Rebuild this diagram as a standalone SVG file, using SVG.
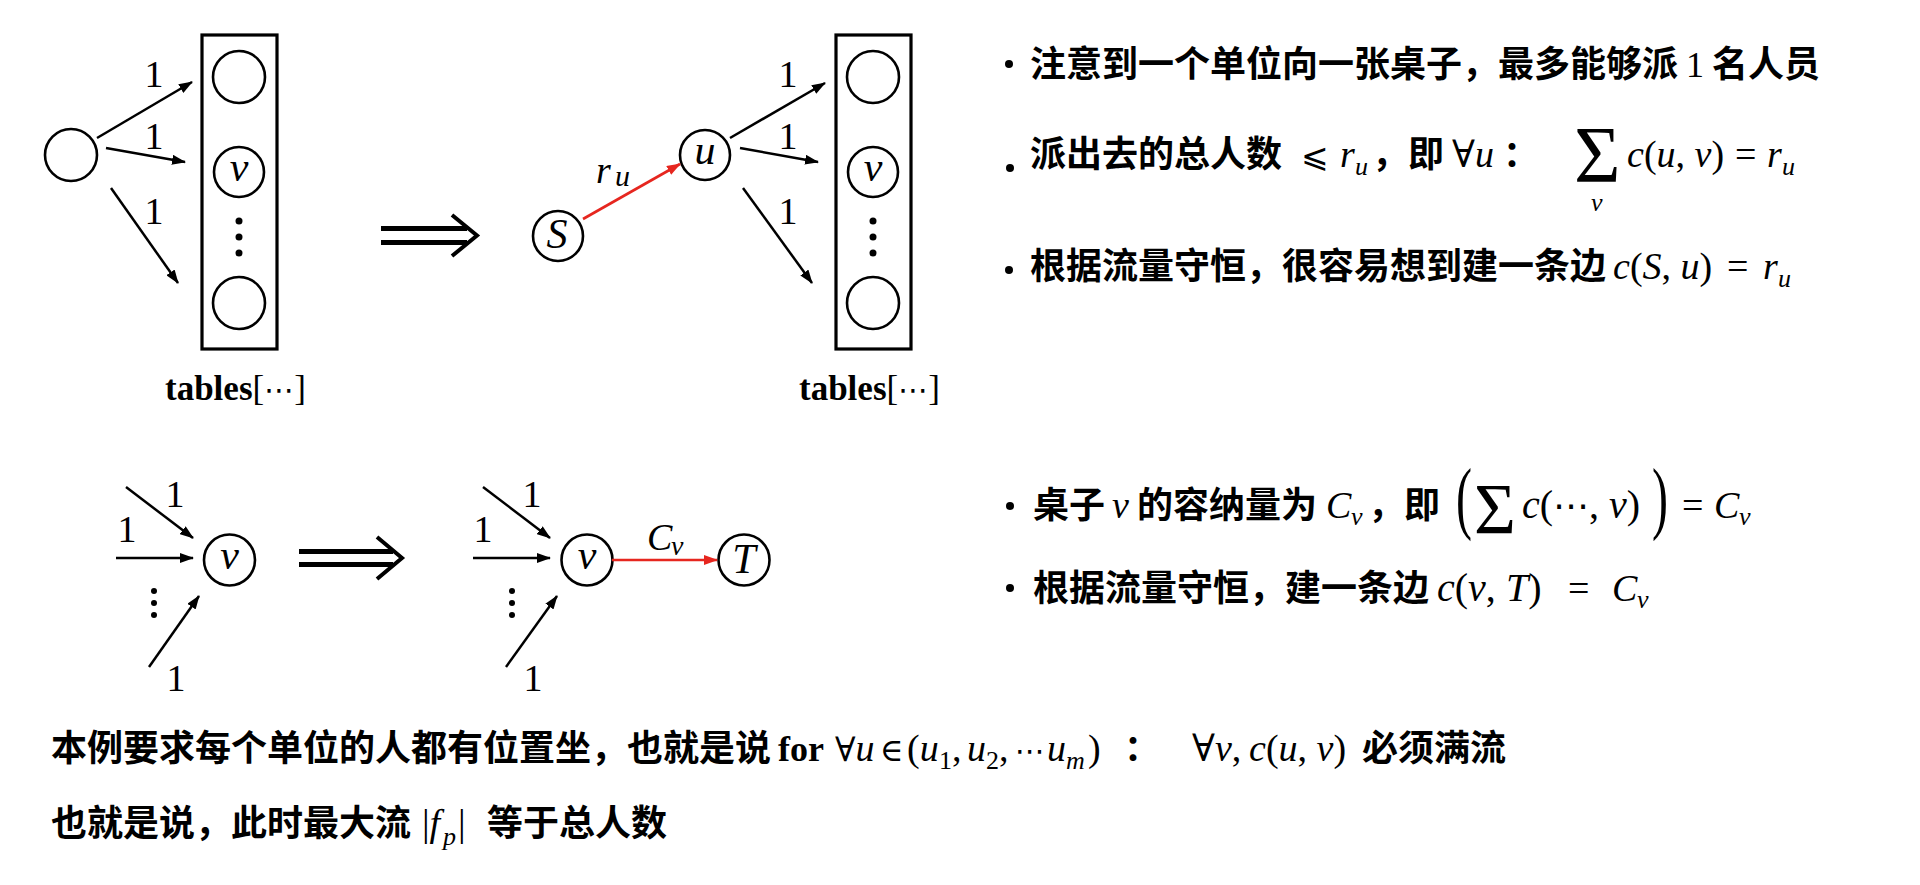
<svg xmlns="http://www.w3.org/2000/svg" width="1920" height="885" viewBox="0 0 1920 885">
<defs>
<marker id="ah" viewBox="0 0 14 10" refX="13" refY="5" markerWidth="14" markerHeight="10" markerUnits="userSpaceOnUse" orient="auto"><path d="M0,0 L14,5 L0,10 z" fill="#000"/></marker>
<marker id="ahr" viewBox="0 0 14 10" refX="13" refY="5" markerWidth="14" markerHeight="10" markerUnits="userSpaceOnUse" orient="auto"><path d="M0,0 L14,5 L0,10 z" fill="#e6261f"/></marker>
<style>
.n{fill:#fff;stroke:#000;stroke-width:2.6}
.box{fill:none;stroke:#000;stroke-width:3.2}
.e{stroke:#000;stroke-width:2.5;fill:none;marker-end:url(#ah)}
.er{stroke:#e6261f;stroke-width:2.6;fill:none;marker-end:url(#ahr)}
.impl{stroke:#000;fill:none}
.t{font-family:'Liberation Serif','DejaVu Serif','Noto Sans CJK SC',serif;fill:#000}
.i{font-style:italic}
.b{font-weight:bold}
.el{font-family:'DejaVu Sans',sans-serif;font-style:normal}
.c{font-family:'Liberation Serif','Noto Sans CJK SC',serif;font-weight:bold;font-size:36px;fill:#000}
.l{font-family:'Liberation Serif',serif;font-size:38px;text-anchor:middle;fill:#000}
.nl{font-family:'Liberation Serif',serif;font-style:italic;font-size:42px;text-anchor:middle;fill:#000}
.m{font-size:38px}
.s{font-size:26px}
.dot{fill:#000}
</style>
</defs>
<rect width="1920" height="885" fill="#fff"/>

<!-- ===== Top-left diagram ===== -->
<g id="node-left"><circle class="n" cx="71" cy="155" r="26"/></g>
<g id="tables1">
<rect class="box" x="202" y="35" width="75" height="314"/>
<g id="t1-c1"><circle class="n" cx="239" cy="77" r="26"/></g>
<g id="t1-v"><circle class="n" cx="239" cy="172" r="25"/><text class="nl" x="239" y="181">v</text></g>
<circle class="dot" cx="239" cy="221" r="3.5"/><circle class="dot" cx="239" cy="237" r="3.5"/><circle class="dot" cx="239" cy="253" r="3.5"/>
<g id="t1-c3"><circle class="n" cx="239" cy="303" r="26"/></g>
<text class="t" x="165" y="400" font-size="35"><tspan class="b">tables</tspan>[<tspan class="el" font-size="30">⋯</tspan>]</text>
</g>

<!-- ===== Top-right diagram ===== -->
<g id="node-S"><circle class="n" cx="558" cy="236" r="25"/><text class="nl" x="557" y="248" font-size="38">S</text></g>
<g id="node-u"><circle class="n" cx="705" cy="155" r="25"/><text class="nl" x="705" y="164">u</text></g>
<g id="tables2">
<rect class="box" x="836" y="35" width="75" height="314"/>
<g id="t2-c1"><circle class="n" cx="873" cy="77" r="26"/></g>
<g id="t2-v"><circle class="n" cx="873" cy="172" r="25"/><text class="nl" x="873" y="181">v</text></g>
<circle class="dot" cx="873" cy="221" r="3.5"/><circle class="dot" cx="873" cy="237" r="3.5"/><circle class="dot" cx="873" cy="253" r="3.5"/>
<g id="t2-c3"><circle class="n" cx="873" cy="303" r="26"/></g>
<text class="t" x="799" y="400" font-size="35"><tspan class="b">tables</tspan>[<tspan class="el" font-size="30">⋯</tspan>]</text>
</g>

<!-- ===== Bottom diagrams ===== -->
<g id="node-v1"><circle class="n" cx="229.5" cy="560" r="25.5"/><text class="nl" x="229.5" y="569">v</text></g>
<g id="node-v2"><circle class="n" cx="587" cy="560" r="25.5"/><text class="nl" x="587" y="569">v</text></g>
<g id="node-T"><circle class="n" cx="744" cy="560" r="25.5"/><text class="nl" x="744" y="573" font-size="38">T</text></g>
<circle class="dot" cx="154" cy="591" r="3"/><circle class="dot" cx="154" cy="603" r="3"/><circle class="dot" cx="154" cy="615" r="3"/>
<circle class="dot" cx="512" cy="591" r="3"/><circle class="dot" cx="512" cy="603" r="3"/><circle class="dot" cx="512" cy="615" r="3"/>

<!-- ===== Connectors ===== -->
<g id="connectors">
<line class="e" x1="97" y1="138" x2="192" y2="82"/>
<line class="e" x1="106" y1="148" x2="185" y2="162"/>
<line class="e" x1="111" y1="188" x2="178" y2="283"/>
<line class="er" x1="583" y1="219" x2="680" y2="164"/>
<line class="e" x1="730" y1="138" x2="825" y2="83"/>
<line class="e" x1="740" y1="148" x2="818" y2="162"/>
<line class="e" x1="743" y1="188" x2="812" y2="283"/>
<line class="e" x1="126" y1="487" x2="193" y2="538"/>
<line class="e" x1="116" y1="558" x2="193" y2="558"/>
<line class="e" x1="149" y1="667" x2="199" y2="596"/>
<line class="e" x1="483" y1="487" x2="550" y2="538"/>
<line class="e" x1="473" y1="558" x2="550" y2="558"/>
<line class="e" x1="506" y1="667" x2="557" y2="596"/>
<line class="er" x1="612" y1="560" x2="717" y2="560"/>
</g>

<!-- edge labels -->
<g id="edge-labels">
<text class="l" x="154" y="87">1</text>
<text class="l" x="154" y="149">1</text>
<text class="l" x="154" y="224">1</text>
<text class="l" x="788" y="87">1</text>
<text class="l" x="788" y="149">1</text>
<text class="l" x="788" y="224">1</text>
<text class="t i" x="596" y="183" font-size="38">r</text><text class="t i" x="615" y="186" font-size="30">u</text>
<text class="l" x="175" y="507" font-size="40">1</text>
<text class="l" x="127" y="542" font-size="40">1</text>
<text class="l" x="176" y="691" font-size="40">1</text>
<text class="l" x="532" y="507" font-size="40">1</text>
<text class="l" x="483" y="542" font-size="40">1</text>
<text class="l" x="533" y="691" font-size="40">1</text>
<text class="t i" x="647" y="550" font-size="38">C</text><text class="t i" x="671" y="555" font-size="28">v</text>
</g>

<!-- implication arrows -->
<g id="implies">
<path class="impl" stroke-width="5" d="M381,228.5 H467 M381,242.5 H467"/>
<path class="impl" stroke-width="4" d="M452,215 L477,235.5 L452,256"/>
<path class="impl" stroke-width="5" d="M299,551.5 H393 M299,564.5 H393"/>
<path class="impl" stroke-width="4" d="M377,537 L402,558 L377,579"/>
</g>

<!-- ===== Right text ===== -->
<g id="text-right">
<circle class="dot" cx="1009" cy="64" r="4"/>
<text class="c" x="1030" y="77">注意到一个单位向一张桌子，最多能够派</text>
<text class="t" x="1686" y="77" font-size="36">1</text>
<text class="c" x="1712" y="77">名人员</text>

<circle class="dot" cx="1010" cy="168" r="4"/>
<text class="c" x="1030" y="167">派出去的总人数</text>
<text class="t" x="1301" y="167" font-size="33" font-family="DejaVu Sans">⩽</text>
<text class="t i m" x="1340" y="167">r</text><text class="t i s" x="1355" y="175">u</text>
<text class="c" x="1372" y="167">，即</text>
<text class="t m" x="1452" y="167">∀<tspan class="i">u</tspan></text>
<text class="c" x="1503" y="167">：</text>
<text class="t" x="1574" y="182" font-size="80">Σ</text>
<text class="t i" x="1591" y="211" font-size="26">v</text>
<text class="t m" x="1627" y="167"><tspan class="i">c</tspan>(<tspan class="i">u</tspan>, <tspan class="i">v</tspan>)</text>
<text class="t m" x="1735" y="167">=</text>
<text class="t i m" x="1767" y="167">r</text><text class="t i s" x="1782" y="175">u</text>

<circle class="dot" cx="1009" cy="270" r="4"/>
<text class="c" x="1030" y="279">根据流量守恒，很容易想到建一条边</text>
<text class="t m" x="1613" y="279"><tspan class="i">c</tspan>(<tspan class="i">S</tspan>, <tspan class="i">u</tspan>)</text>
<text class="t m" x="1727" y="279">=</text>
<text class="t i m" x="1763" y="279">r</text><text class="t i s" x="1778" y="287">u</text>

<circle class="dot" cx="1010" cy="506" r="4"/>
<text class="c" x="1033" y="518">桌子</text>
<text class="t i m" x="1112" y="518">v</text>
<text class="c" x="1137" y="518">的容纳量为</text>
<text class="t i m" x="1326" y="518">C</text><text class="t i s" x="1351" y="525">v</text>
<text class="c" x="1368" y="518">，即</text>
<text class="t" transform="translate(1456,524) scale(0.6,1)" font-size="80">(</text>
<text class="t" x="1474" y="533" font-size="72">Σ</text>
<text class="t" x="1522" y="518" font-size="40"><tspan class="i">c</tspan>(<tspan class="el" font-size="36">⋯</tspan>, <tspan class="i">v</tspan>)</text>
<text class="t" transform="translate(1652,524) scale(0.6,1)" font-size="80">)</text>
<text class="t m" x="1682" y="518">=</text>
<text class="t i m" x="1714" y="518">C</text><text class="t i s" x="1739" y="525">v</text>

<circle class="dot" cx="1010" cy="588" r="4"/>
<text class="c" x="1033" y="601">根据流量守恒，建一条边</text>
<text class="t" x="1437" y="601" font-size="40"><tspan class="i">c</tspan>(<tspan class="i">v</tspan>,</text>
<text class="t" x="1506" y="601" font-size="40"><tspan class="i">T</tspan>)</text>
<text class="t m" x="1568" y="601">=</text>
<text class="t i m" x="1612" y="601">C</text><text class="t i s" x="1637" y="608">v</text>
</g>

<!-- ===== Bottom text ===== -->
<g id="text-bottom">
<text class="c" x="51" y="761">本例要求每个单位的人都有位置坐，也就是说</text>
<text class="t b" x="778" y="761" font-size="36">for</text>
<text class="t" x="835" y="761" font-size="34">∀<tspan class="i" font-size="38">u</tspan></text>
<text class="t" x="880" y="761" font-size="32">∈</text>
<text class="t m" x="907" y="761">(<tspan class="i">u</tspan></text><text class="t s" x="939" y="769">1</text>
<text class="t m" x="952" y="761">,</text>
<text class="t i m" x="967" y="761">u</text><text class="t s" x="986" y="769">2</text>
<text class="t m" x="999" y="761">,</text>
<text class="t el" x="1015" y="761" font-size="30">⋯</text>
<text class="t i m" x="1047" y="761">u</text><text class="t i s" x="1066" y="769">m</text>
<text class="t m" x="1088" y="761">)</text>
<text class="c" x="1124" y="761">：</text>
<text class="t m" x="1192" y="761">∀<tspan class="i">v</tspan>,</text>
<text class="t m" x="1249" y="761"><tspan class="i">c</tspan>(<tspan class="i">u</tspan>, <tspan class="i">v</tspan>)</text>
<text class="c" x="1362" y="761">必须满流</text>

<text class="c" x="51" y="836">也就是说，此时最大流</text>
<text class="t m" x="422" y="836">|<tspan class="i">f</tspan></text><text class="t i s" x="443" y="845">p</text><text class="t m" x="458" y="836">|</text>
<text class="c" x="487" y="836">等于总人数</text>
</g>
</svg>
